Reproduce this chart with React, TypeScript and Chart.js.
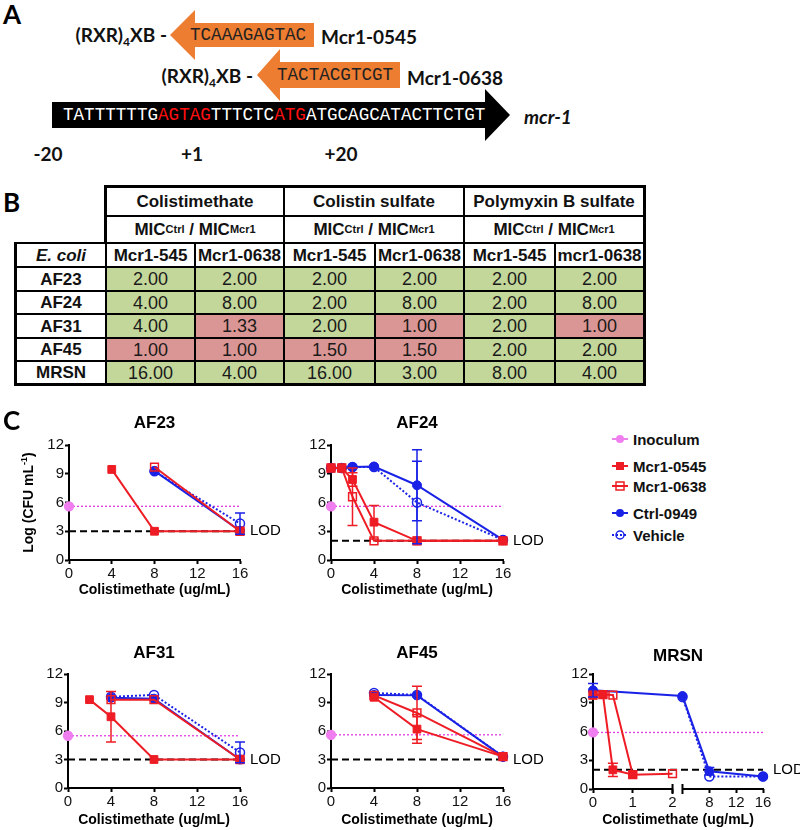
import React, { useEffect, useRef } from 'react';
import { Chart, registerables } from 'chart.js';

Chart.register(...registerables);

const FONT = "'Liberation Sans', Arial, sans-serif";
const LATO = "Lato, 'Open Sans', sans-serif";
const MONO = "'Liberation Mono', 'DejaVu Sans Mono', monospace";
const RED = '#ee1c24';
const BLUE = '#1a22e6';
const MAGENTA = '#e03de0';
const VIOLET = '#f07ef0';
const ORANGE = '#ed7d31';
const GREEN_CELL = '#c4d79b';
const RED_CELL = '#da9694';

Chart.defaults.font.family = FONT;

// ---------------- Panel A data ----------------
const SEQ_PARTS: [string, boolean][] = [
  ['TATTTTTTG', false],
  ['AGTAG', true],
  ['TTTCTC', false],
  ['ATG', true],
  ['ATGCAGCATACTTCTGT', false],
];
const OLIGO_0545 = 'TCAAAGAGTAC';
const OLIGO_0638 = 'TACTACGTCGT';
const POSITION_LABELS = ['-20', '+1', '+20'];

// ---------------- Panel B data ----------------
const STRAINS = ['AF23', 'AF24', 'AF31', 'AF45', 'MRSN'];
const DRUGS = ['Colistimethate', 'Colistin sulfate', 'Polymyxin B sulfate'];
const OLIGO_HEADERS = ['Mcr1-545', 'Mcr1-0638', 'Mcr1-545', 'Mcr1-0638', 'Mcr1-545', 'mcr1-0638'];
const CMS_545 = [2, 4, 4, 1, 16];
const CMS_0638 = [2, 8, 1.33, 1, 4];
const COL_545 = [2, 2, 2, 1.5, 16];
const COL_0638 = [2, 8, 1, 1.5, 3];
const PMB_545 = [2, 2, 2, 2, 8];
const PMB_0638 = [2, 8, 1, 2, 4];
const TABLE_COLUMNS = [CMS_545, CMS_0638, COL_545, COL_0638, PMB_545, PMB_0638];

// ---------------- Panel C data ----------------
// points are [concentration, log CFU, error]
const X_TICKS = [0, 4, 8, 12, 16];
const MRSN_X_TICKS = [0, 1, 2, 8, 12, 16];
const Y_TICKS = [0, 3, 6, 9, 12];

const AF23_MCR0545 = [[4, 9.45], [8, 3.0], [16, 3.0]];
const AF23_MCR0638 = [[8, 9.7], [16, 3.0]];
const AF23_CTRL = [[8, 9.3], [16, 3.05]];
const AF23_VEHICLE = [[8, 9.25], [16, 3.8, 1.1]];

const AF24_MCR0545 = [[0, 9.6], [1, 9.6], [2, 8.4, 0.7], [4, 3.95, 1.75], [8, 2.0], [16, 2.0]];
const AF24_MCR0638 = [[0, 9.6], [1, 9.6], [2, 6.6, 3.0], [4, 2.0], [8, 2.0], [16, 2.0]];
const AF24_CTRL = [[0, 9.6], [1, 9.6], [2, 9.7], [4, 9.75], [8, 7.8, 3.7], [16, 2.1]];
const AF24_VEHICLE = [[0, 9.6], [1, 9.6], [2, 9.7], [4, 9.7], [8, 6.0, 4.3], [16, 2.1]];

const AF31_MCR0545 = [[2, 9.3], [4, 7.5, 2.65], [8, 3.0], [16, 3.0]];
const AF31_MCR0638 = [[4, 9.3], [8, 9.3], [16, 3.0]];
const AF31_CTRL = [[4, 9.5], [8, 9.4], [16, 3.0]];
const AF31_VEHICLE = [[4, 9.6], [8, 9.8], [16, 3.75, 1.1]];

const AF45_MCR0545 = [[4, 9.55], [8, 6.2, 1.5], [16, 3.3]];
const AF45_MCR0638 = [[4, 9.75], [8, 7.9, 2.8], [16, 3.3]];
const AF45_CTRL = [[4, 9.8], [8, 9.75], [16, 3.3]];
const AF45_VEHICLE = [[4, 10.0], [8, 9.8], [16, 3.3]];

const MRSN_MCR0545 = [[0, 9.8], [0.25, 9.85], [0.5, 2.0, 0.7], [1, 1.5]];
const MRSN_MCR0638 = [[0, 9.8], [0.25, 9.85], [0.5, 9.8], [1, 1.5], [2, 1.6]];
const MRSN_CTRL = [[0, 10.3, 0.7], [4, 9.7], [8, 1.85, 0.4], [16, 1.3]];
const MRSN_VEHICLE = [[4, 9.6], [8, 1.3], [16, 1.3]];

const INOCULUM_LEVELS = [5.6, 5.6, 5.5, 5.6, 5.9];
const LOD_LEVELS = [3, 2, 3, 3, 2];

const identity = (x: number) => x;
// broken x axis for MRSN: 0..2 then 4..16 compressed
const mrsnMap = (x: number) => (x <= 2 ? x : 2.25 + (x - 4) * 0.16875);

type Box = { cx: number; cy: number; cw: number; ch: number; left: number; top: number; right: number; bottom: number };

const PANELS = [
  { name: 'AF23', s: [AF23_MCR0545, AF23_MCR0638, AF23_CTRL, AF23_VEHICLE], inoc: INOCULUM_LEVELS[0], lod: LOD_LEVELS[0], ticks: X_TICKS, broken: false, yTitle: true,
    box: { cx: 0, cy: 400, cw: 300, ch: 204, left: 69, top: 445, right: 240, bottom: 560 }, titleGap: 22, xTitleGap: 30 },
  { name: 'AF24', s: [AF24_MCR0545, AF24_MCR0638, AF24_CTRL, AF24_VEHICLE], inoc: INOCULUM_LEVELS[1], lod: LOD_LEVELS[1], ticks: X_TICKS, broken: false, yTitle: false,
    box: { cx: 295, cy: 400, cw: 265, ch: 204, left: 331, top: 445, right: 503, bottom: 560 }, titleGap: 22, xTitleGap: 30 },
  { name: 'AF31', s: [AF31_MCR0545, AF31_MCR0638, AF31_CTRL, AF31_VEHICLE], inoc: INOCULUM_LEVELS[2], lod: LOD_LEVELS[2], ticks: X_TICKS, broken: false, yTitle: false,
    box: { cx: 0, cy: 630, cw: 300, ch: 200, left: 68, top: 674, right: 240, bottom: 788 }, titleGap: 21, xTitleGap: 32 },
  { name: 'AF45', s: [AF45_MCR0545, AF45_MCR0638, AF45_CTRL, AF45_VEHICLE], inoc: INOCULUM_LEVELS[3], lod: LOD_LEVELS[3], ticks: X_TICKS, broken: false, yTitle: false,
    box: { cx: 295, cy: 630, cw: 265, ch: 200, left: 331, top: 674, right: 503, bottom: 788 }, titleGap: 21, xTitleGap: 32 },
  { name: 'MRSN', s: [MRSN_MCR0545, MRSN_MCR0638, MRSN_CTRL, MRSN_VEHICLE], inoc: INOCULUM_LEVELS[4], lod: LOD_LEVELS[4], ticks: MRSN_X_TICKS, broken: true, yTitle: false,
    box: { cx: 555, cy: 630, cw: 245, ch: 200, left: 593, top: 674, right: 763, bottom: 789 }, titleGap: 18, xTitleGap: 31 },
];

const SERIES_LABELS = ['Mcr1-0545', 'Mcr1-0638', 'Ctrl-0949', 'Vehicle'];

function seriesStyle(k: number): any {
  if (k === 0) return { borderColor: RED, pointStyle: 'rect', pointRadius: 5.5, pointBackgroundColor: RED, pointBorderColor: RED, pointBorderWidth: 1 };
  if (k === 1) return { borderColor: RED, pointStyle: 'rect', pointRadius: 5.5, pointBackgroundColor: 'rgba(255,255,255,0)', pointBorderColor: RED, pointBorderWidth: 1.5 };
  if (k === 2) return { borderColor: BLUE, pointStyle: 'circle', pointRadius: 4.5, pointBackgroundColor: BLUE, pointBorderColor: BLUE, pointBorderWidth: 1 };
  return { borderColor: BLUE, borderDash: [2, 2], pointStyle: 'circle', pointRadius: 4.5, pointBackgroundColor: 'rgba(255,255,255,0)', pointBorderColor: BLUE, pointBorderWidth: 1.5 };
}

const errorBarPlugin = {
  id: 'errorBars',
  afterDatasetsDraw(chart: any) {
    const ctx = chart.ctx;
    const ys = chart.scales.y;
    chart.data.datasets.forEach((d: any, i: number) => {
      if (!d.errors) return;
      const meta = chart.getDatasetMeta(i);
      d.errors.forEach((e: number, j: number) => {
        if (!e) return;
        const el = meta.data[j];
        const v = d.data[j].y;
        const top = ys.getPixelForValue(v + e);
        const bot = ys.getPixelForValue(Math.max(v - e, 0));
        ctx.save();
        ctx.strokeStyle = d.borderColor;
        ctx.lineWidth = 1.5;
        ctx.beginPath();
        ctx.moveTo(el.x, top); ctx.lineTo(el.x, bot);
        ctx.moveTo(el.x - 5, top); ctx.lineTo(el.x + 5, top);
        ctx.moveTo(el.x - 5, bot); ctx.lineTo(el.x + 5, bot);
        ctx.stroke();
        ctx.restore();
      });
    });
  },
};

const decoPlugin = {
  id: 'deco',
  afterDraw(chart: any, _args: any, o: any) {
    const { ctx, chartArea: a } = chart;
    const ys = chart.scales.y;
    const xs = chart.scales.x;
    ctx.save();
    ctx.fillStyle = '#000';
    ctx.textBaseline = 'middle';
    ctx.textAlign = 'center';
    ctx.font = `bold 17px ${FONT}`;
    ctx.fillText(o.title, (a.left + a.right) / 2, a.top - o.titleGap);
    ctx.font = `bold 14px ${FONT}`;
    ctx.fillText('Colistimethate (ug/mL)', (a.left + a.right) / 2, a.bottom + o.xTitleGap);
    ctx.textAlign = 'left';
    ctx.font = `15px ${FONT}`;
    ctx.fillText('LOD', a.right + 10, ys.getPixelForValue(o.lod));
    if (o.yTitle) {
      ctx.save();
      ctx.translate(28, (a.top + a.bottom) / 2);
      ctx.rotate(-Math.PI / 2);
      ctx.textAlign = 'left';
      ctx.textBaseline = 'alphabetic';
      const big = `bold 14px ${FONT}`;
      const small = `bold 9px ${FONT}`;
      ctx.font = big;
      const w1 = ctx.measureText('Log (CFU mL').width;
      const w3 = ctx.measureText(')').width;
      ctx.font = small;
      const w2 = ctx.measureText('-1').width;
      let x = -(w1 + w2 + w3) / 2;
      ctx.font = big;
      ctx.fillText('Log (CFU mL', x, 5);
      x += w1;
      ctx.font = small;
      ctx.fillText('-1', x, -1);
      x += w2;
      ctx.font = big;
      ctx.fillText(')', x, 5);
      ctx.restore();
    }
    if (o.broken) {
      const y = a.bottom;
      const p0 = xs.getPixelForValue(mrsnMap(0));
      const p2 = xs.getPixelForValue(mrsnMap(2));
      const p4 = xs.getPixelForValue(mrsnMap(4));
      const p16 = xs.getPixelForValue(mrsnMap(16));
      ctx.strokeStyle = '#000';
      ctx.lineWidth = 2;
      ctx.beginPath();
      ctx.moveTo(p0 - 1, y); ctx.lineTo(p2, y);
      ctx.moveTo(p4, y); ctx.lineTo(p16 + 1, y);
      ctx.moveTo(p2, y - 5); ctx.lineTo(p2, y + 5);
      ctx.moveTo(p4, y - 5); ctx.lineTo(p4, y + 5);
      ctx.stroke();
    }
    ctx.restore();
  },
};

function buildConfig(p: any): any {
  const m = p.broken ? mrsnMap : identity;
  const b: Box = p.box;
  const datasets: any[] = p.s.map((pts: number[][], k: number) => ({
    label: SERIES_LABELS[k],
    data: pts.map((q) => ({ x: m(q[0]), y: q[1] })),
    errors: pts.map((q) => q[2] || 0),
    borderWidth: 2,
    tension: 0,
    clip: false,
    ...seriesStyle(k),
  }));
  datasets.push({
    label: 'Inoculum',
    data: [{ x: m(0), y: p.inoc }, { x: m(16), y: p.inoc }],
    borderColor: MAGENTA,
    borderWidth: 1.3,
    borderDash: [2, 2],
    pointRadius: [4.5, 0],
    pointBackgroundColor: VIOLET,
    pointBorderColor: VIOLET,
    clip: false,
  });
  datasets.push({
    label: 'LOD',
    data: [{ x: m(0), y: p.lod }, { x: m(16), y: p.lod }],
    borderColor: '#000',
    borderWidth: 2,
    borderDash: [7, 4],
    pointRadius: 0,
    clip: false,
  });
  const tickVals: number[] = p.ticks;
  return {
    type: 'line',
    data: { datasets },
    options: {
      responsive: false,
      animation: false,
      devicePixelRatio: 1,
      events: [],
      layout: { padding: { top: b.top - b.cy, right: b.cx + b.cw - b.right, left: 0, bottom: 0 } },
      plugins: {
        legend: { display: false },
        tooltip: { enabled: false },
        deco: { title: p.name, lod: p.lod, titleGap: p.titleGap, xTitleGap: p.xTitleGap, yTitle: p.yTitle, broken: p.broken },
      },
      scales: {
        x: {
          type: 'linear',
          min: 0,
          max: m(16),
          afterBuildTicks: (s: any) => { s.ticks = tickVals.map((v) => ({ value: m(v) })); },
          afterFit: (s: any) => { s.height = b.cy + b.ch - b.bottom; },
          ticks: { callback: (_v: any, i: number) => String(tickVals[i]), font: { size: 15, family: FONT }, color: '#111', padding: 1, maxRotation: 0, autoSkip: false },
          grid: { display: true, drawOnChartArea: false, drawTicks: true, tickLength: 4, tickColor: '#000', tickWidth: 2 },
          border: { display: !p.broken, color: '#000', width: 2 },
        },
        y: {
          type: 'linear',
          min: 0,
          max: 12,
          afterBuildTicks: (s: any) => { s.ticks = Y_TICKS.map((v) => ({ value: v })); },
          afterFit: (s: any) => { s.width = b.left - b.cx; },
          ticks: { font: { size: 15, family: FONT }, color: '#111', padding: 1 },
          grid: { display: true, drawOnChartArea: false, drawTicks: true, tickLength: 4, tickColor: '#000', tickWidth: 2 },
          border: { display: true, color: '#000', width: 2 },
        },
      },
    },
    plugins: [errorBarPlugin, decoPlugin],
  };
}

function PanelChart({ p }: { p: any }) {
  const ref = useRef<HTMLCanvasElement>(null);
  useEffect(() => {
    const chart = new Chart(ref.current as HTMLCanvasElement, buildConfig(p));
    return () => chart.destroy();
  }, []);
  const b: Box = p.box;
  return (
    <canvas
      ref={ref}
      width={b.cw}
      height={b.ch}
      style={{ position: 'absolute', left: b.cx, top: b.cy, width: b.cw, height: b.ch }}
    />
  );
}

function Txt({ x, y, align = 'left', style, children }: any) {
  const tx = align === 'left' ? '0' : align === 'center' ? '-50%' : '-100%';
  return (
    <div style={{ position: 'absolute', left: x, top: y, transform: `translate(${tx}, -50%)`, whiteSpace: 'nowrap', lineHeight: 1, ...style }}>
      {children}
    </div>
  );
}

function PanelA() {
  const lbl = { fontFamily: LATO, fontWeight: 700, fontSize: 19, color: '#111' };
  const seq = { fontFamily: MONO, fontSize: 17.6 };
  const subS = { fontSize: 12, verticalAlign: -4 };
  return (
    <>
      <svg style={{ position: 'absolute', left: 0, top: 0 }} width={600} height={170}>
        <polygon points="170,35 195,10 195,23 314,23 314,47 195,47 195,60" fill={ORANGE} />
        <polygon points="257,75 280,49 280,62 400,62 400,88 280,88 280,101" fill={ORANGE} />
        <polygon points="52,102 485,102 485,89 510,115 485,141 485,128 52,128" fill="#000" />
      </svg>
      <Txt x={3} y={14} style={{ fontFamily: LATO, fontWeight: 700, fontSize: 26 }}>A</Txt>
      <Txt x={167} y={36} align="right" style={lbl}>(RXR)<sub style={subS}>4</sub>XB -</Txt>
      <Txt x={190} y={36} style={{ ...seq, color: '#222' }}>{OLIGO_0545}</Txt>
      <Txt x={321} y={36} style={lbl}>Mcr1-0545</Txt>
      <Txt x={253} y={77} align="right" style={lbl}>(RXR)<sub style={subS}>4</sub>XB -</Txt>
      <Txt x={277} y={76} style={{ ...seq, color: '#222' }}>{OLIGO_0638}</Txt>
      <Txt x={407} y={77} style={lbl}>Mcr1-0638</Txt>
      <Txt x={63} y={116} style={{ ...seq, color: '#fff' }}>
        {SEQ_PARTS.map(([t, red], i) => (
          <span key={i} style={{ color: red ? '#ff1010' : '#fff' }}>{t}</span>
        ))}
      </Txt>
      <Txt x={524} y={116} style={{ ...lbl, fontStyle: 'italic' }}>mcr-1</Txt>
      <Txt x={48} y={153} align="center" style={lbl}>{POSITION_LABELS[0]}</Txt>
      <Txt x={192} y={153} align="center" style={lbl}>{POSITION_LABELS[1]}</Txt>
      <Txt x={341} y={153} align="center" style={lbl}>{POSITION_LABELS[2]}</Txt>
    </>
  );
}

const COLS = [16, 106, 195, 284, 375, 464, 555, 644];
const ROWS = [187, 216, 243, 267, 291, 314, 338, 361, 384];

function Cell({ x0, x1, y0, y1, bg = '#fff', children, style }: any) {
  return (
    <div
      style={{
        position: 'absolute', left: x0 + 1, top: y0 + 1, width: x1 - x0 - 2, height: y1 - y0 - 2,
        background: bg, display: 'flex', alignItems: 'center', justifyContent: 'center',
        whiteSpace: 'nowrap', lineHeight: 1, ...style,
      }}
    >
      {children}
    </div>
  );
}

function PanelB() {
  const hdr = { fontWeight: 700, fontSize: 17, color: '#111' };
  const sub = { fontSize: 11, verticalAlign: -4 };
  const cells: any[] = [];
  DRUGS.forEach((d, k) => {
    cells.push(<Cell key={'d' + k} x0={COLS[1 + 2 * k]} x1={COLS[3 + 2 * k]} y0={ROWS[0]} y1={ROWS[1]} style={hdr}>{d}</Cell>);
    cells.push(
      <Cell key={'m' + k} x0={COLS[1 + 2 * k]} x1={COLS[3 + 2 * k]} y0={ROWS[1]} y1={ROWS[2]} style={hdr}>
        MIC<sub style={sub}>Ctrl</sub>&nbsp;/&nbsp;MIC<sub style={sub}>Mcr1</sub>
      </Cell>,
    );
  });
  cells.push(<Cell key="ec" x0={COLS[0]} x1={COLS[1]} y0={ROWS[2]} y1={ROWS[3]} style={{ ...hdr, fontStyle: 'italic' }}>E. coli</Cell>);
  OLIGO_HEADERS.forEach((h, c) => {
    cells.push(<Cell key={'o' + c} x0={COLS[1 + c]} x1={COLS[2 + c]} y0={ROWS[2]} y1={ROWS[3]} style={hdr}>{h}</Cell>);
  });
  STRAINS.forEach((s, r) => {
    cells.push(<Cell key={'s' + r} x0={COLS[0]} x1={COLS[1]} y0={ROWS[3 + r]} y1={ROWS[4 + r]} style={hdr}>{s}</Cell>);
    TABLE_COLUMNS.forEach((col, c) => {
      const v = col[r];
      cells.push(
        <Cell key={'v' + r + '-' + c} x0={COLS[1 + c]} x1={COLS[2 + c]} y0={ROWS[3 + r]} y1={ROWS[4 + r]}
          bg={v < 2 ? RED_CELL : GREEN_CELL} style={{ fontSize: 18, color: '#1a1a1a' }}>
          {v.toFixed(2)}
        </Cell>,
      );
    });
  });
  return (
    <>
      <Txt x={3} y={202} style={{ fontFamily: LATO, fontWeight: 700, fontSize: 26 }}>B</Txt>
      <div style={{ position: 'absolute', left: COLS[1] - 2, top: ROWS[0] - 2, width: COLS[7] - COLS[1] + 4, height: ROWS[2] - ROWS[0] + 4, background: '#000' }} />
      <div style={{ position: 'absolute', left: COLS[0] - 2, top: ROWS[2] - 1, width: COLS[7] - COLS[0] + 4, height: ROWS[8] - ROWS[2] + 3, background: '#000' }} />
      {cells}
    </>
  );
}

const LEGEND_LABELS = ['Inoculum', 'Mcr1-0545', 'Mcr1-0638', 'Ctrl-0949', 'Vehicle'];
const LEGEND_Y = [439, 466, 486, 513, 535];

function LegendMarker({ k }: { k: number }) {
  return (
    <svg width={20} height={14} style={{ position: 'absolute', left: 0, top: -7 }}>
      {k === 0 && (<><line x1={2} y1={7} x2={18} y2={7} stroke={MAGENTA} strokeWidth={1.3} /><circle cx={10} cy={7} r={4} fill={VIOLET} /></>)}
      {k === 1 && (<><line x1={2} y1={7} x2={18} y2={7} stroke={RED} strokeWidth={2} /><rect x={6} y={3} width={8} height={8} fill={RED} /></>)}
      {k === 2 && (<><line x1={2} y1={7} x2={18} y2={7} stroke={RED} strokeWidth={2} /><rect x={6} y={3} width={8} height={8} fill="none" stroke={RED} strokeWidth={1.5} /></>)}
      {k === 3 && (<><line x1={2} y1={7} x2={18} y2={7} stroke={BLUE} strokeWidth={2} /><circle cx={10} cy={7} r={4} fill={BLUE} /></>)}
      {k === 4 && (<><line x1={2} y1={7} x2={18} y2={7} stroke={BLUE} strokeWidth={2} strokeDasharray="2 2" /><circle cx={10} cy={7} r={4} fill="none" stroke={BLUE} strokeWidth={1.5} /></>)}
    </svg>
  );
}

function Legend() {
  return (
    <>
      {LEGEND_LABELS.map((l, k) => (
        <div key={l} style={{ position: 'absolute', left: 610, top: LEGEND_Y[k], height: 0 }}>
          <LegendMarker k={k} />
          <Txt x={23} y={0} style={{ fontWeight: 700, fontSize: 15, color: '#111' }}>{l}</Txt>
        </div>
      ))}
    </>
  );
}

export default function App() {
  return (
    <div style={{ position: 'absolute', left: 0, top: 0, width: 800, height: 830, background: '#fff', overflow: 'hidden', fontFamily: FONT, color: '#000' }}>
      <PanelA />
      <PanelB />
      {PANELS.map((p) => <PanelChart key={p.name} p={p} />)}
      <Legend />
      <Txt x={3} y={420} style={{ fontFamily: LATO, fontWeight: 700, fontSize: 26 }}>C</Txt>
    </div>
  );
}
